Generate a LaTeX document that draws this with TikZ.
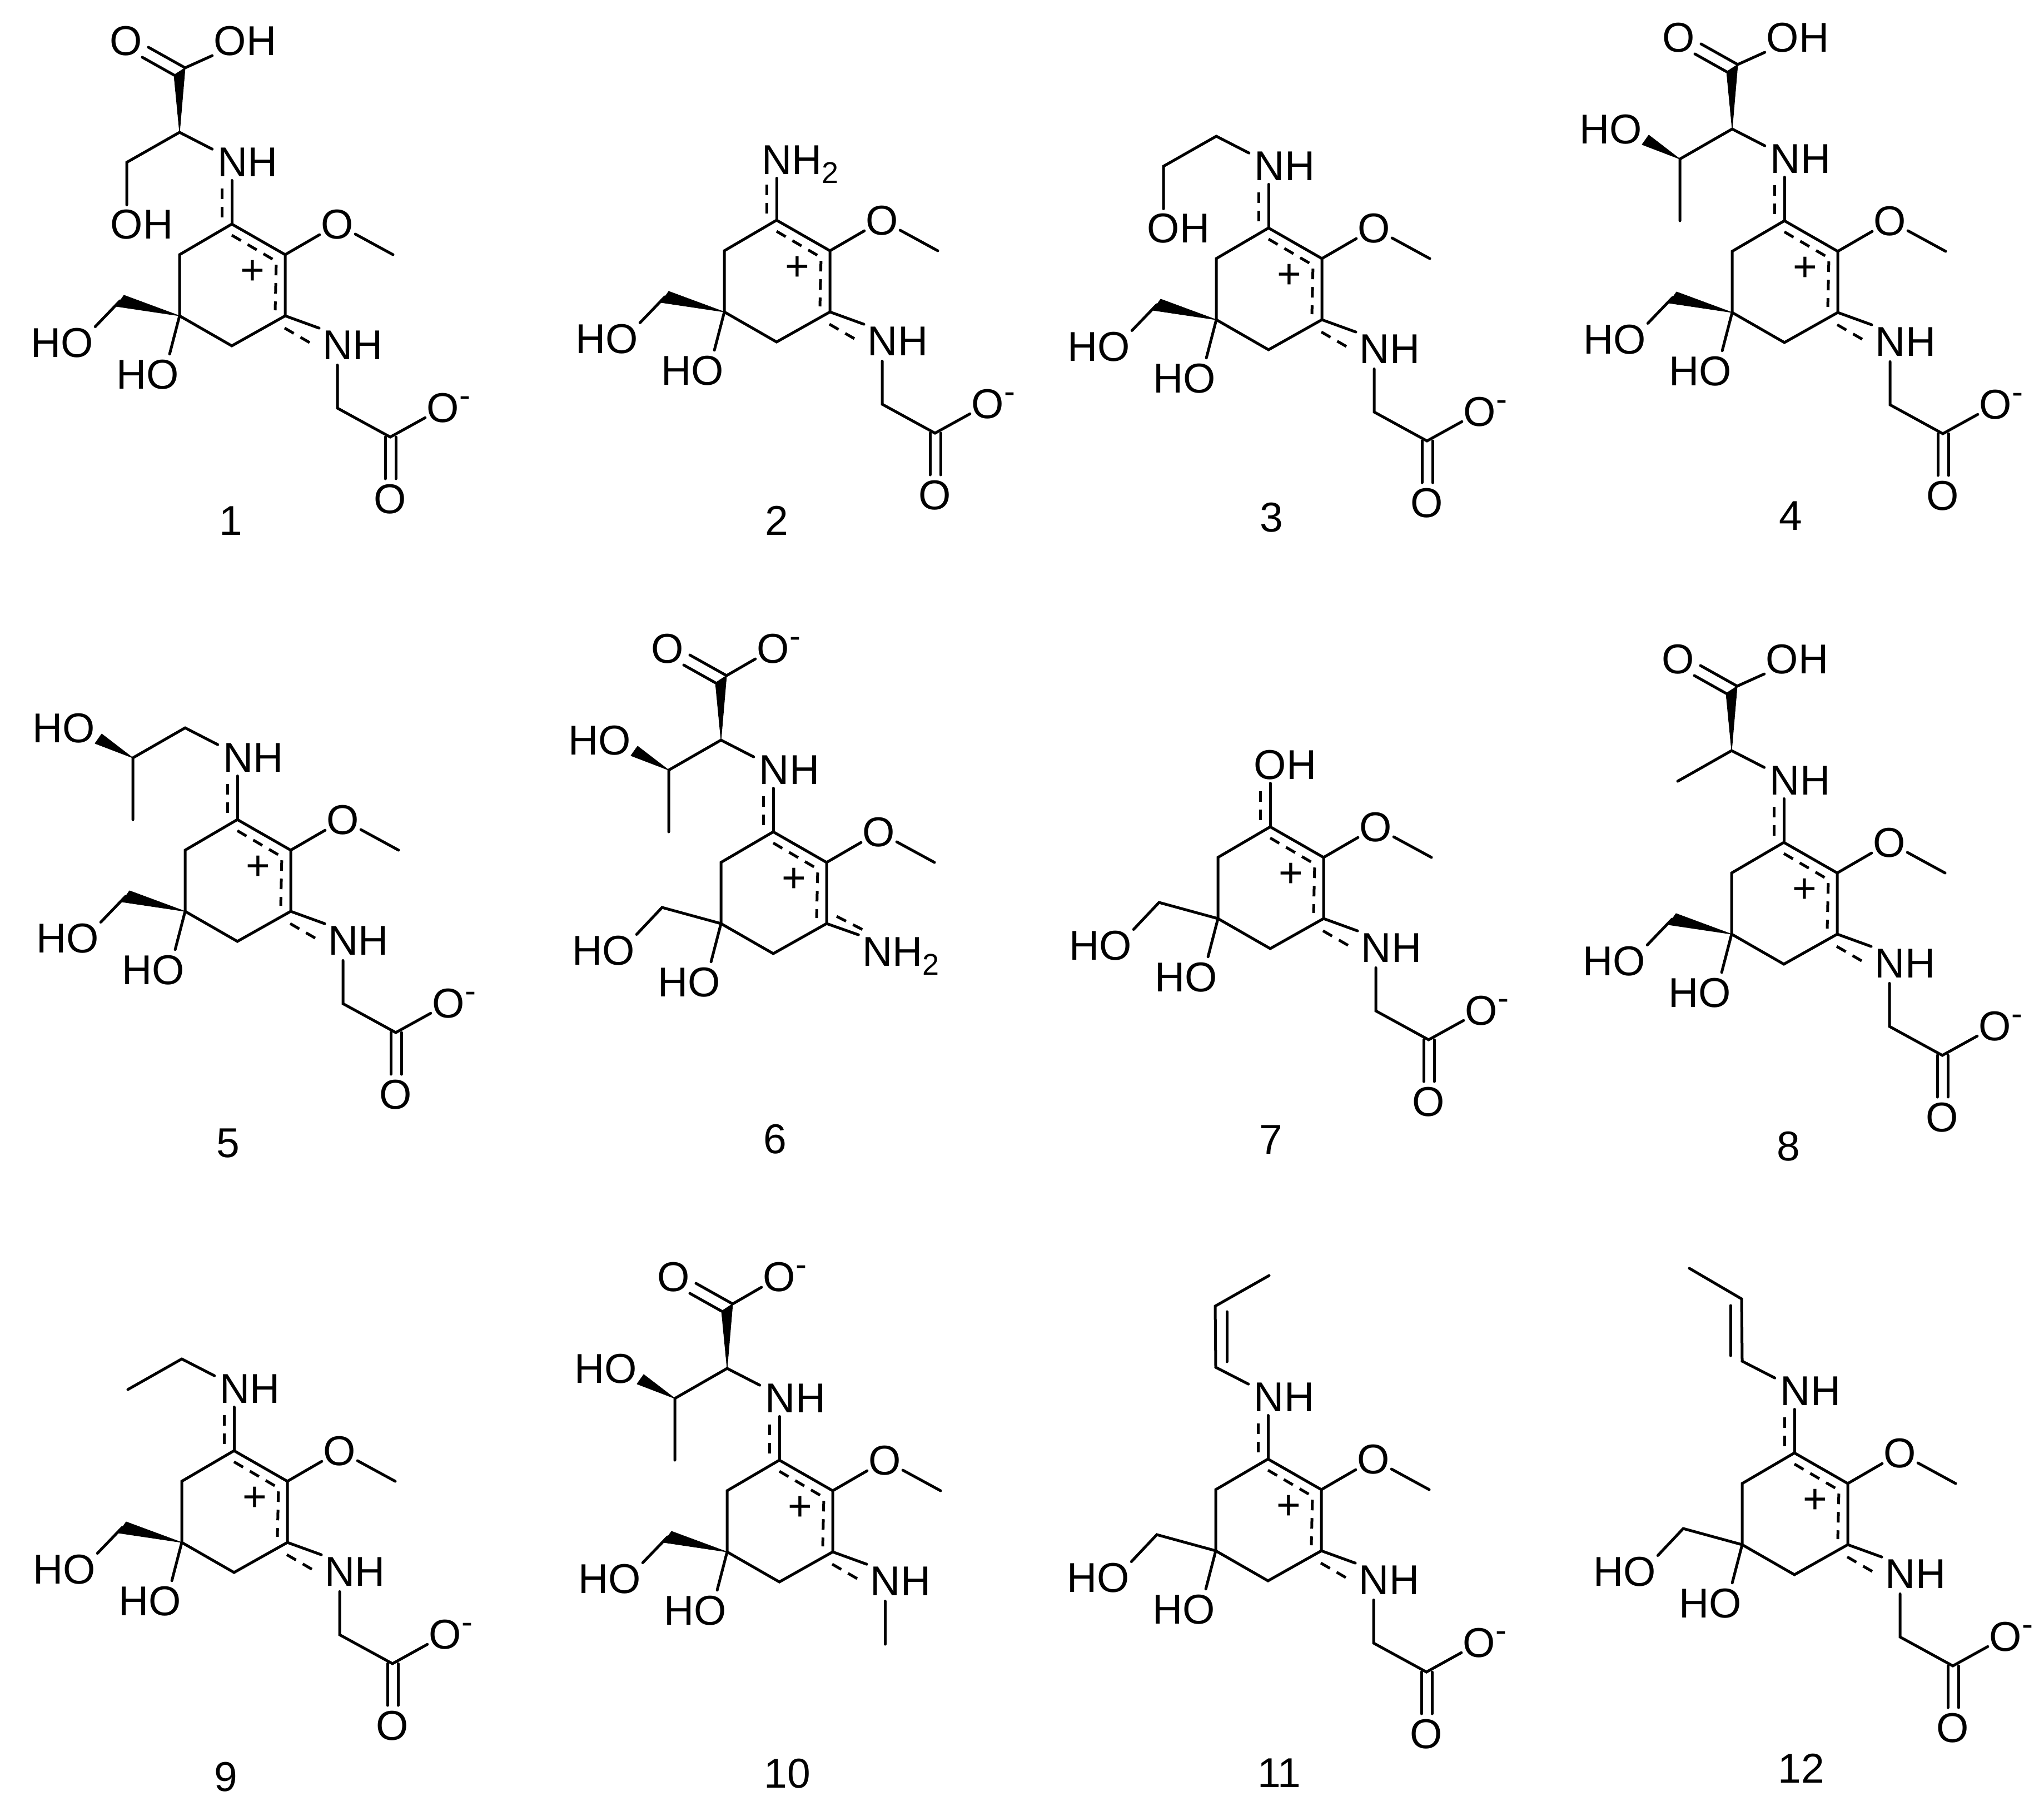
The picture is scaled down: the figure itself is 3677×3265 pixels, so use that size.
\documentclass[tikz,border=0pt]{standalone}
\usepackage{fontspec}
\setmainfont{Liberation Sans}
\tikzset{
  atom/.style={font=\fontsize{75}{80}\selectfont,text height=52pt,text depth=0pt,inner sep=0pt,outer sep=3pt,anchor=center,yshift=2.5pt},
  numlabel/.style={font=\fontsize{75}{80}\selectfont,text height=52pt,text depth=0pt,inner sep=0pt,anchor=center},
  bond/.style={draw=black,line width=5pt,line cap=round,line join=miter},
  dashbond/.style={draw=black,line width=5pt,line cap=butt,line join=miter,dash pattern=on 19pt off 14pt},
  wedgebond/.style={fill=black,draw=black,line width=1pt,line join=round}
}
\newcommand\ptc[3]{\coordinate (\pfx#1) at (#2,#3);}
\newcommand\lab[4]{\node[atom] (\pfx#1) at (#2,#3) {#4};}
\newcommand\Ominus{O\rlap{\raisebox{28pt}{\fontsize{60}{60}\selectfont -}}}
\newcommand\NHtwo{NH\raisebox{-15.6pt}{\fontsize{54}{54}\selectfont 2}}
\newcommand\mol[4]{\begin{scope}[shift={(#2pt,-#3pt)},x=1pt,y=-1pt]\def\pfx{#1}#4\end{scope}}
% ring, methoxy, tertiary OH, delocalised dashes, charge
\newcommand\ringcore{%
  \ptc{T}{0}{0}\ptc{UR}{96}{55}\ptc{LR}{96}{165}\ptc{Bt}{0}{219}\ptc{LL}{-94}{165}\ptc{UL}{-94}{55}%
  \draw[bond] (\pfx T)--(\pfx UR)--(\pfx LR)--(\pfx Bt)--(\pfx LL)--(\pfx UL)--cycle;
  \lab{OM}{190}{3}{O}\ptc{Me}{290}{55}%
  \draw[bond] (\pfx UR)--(\pfx OM);
  \draw[bond] (\pfx OM)--(\pfx Me);
  \ptc{DA}{0}{20}\ptc{DB}{80}{67}\ptc{DC}{78}{155}%
  \draw[dashbond] (\pfx DA)--(\pfx DB)--(\pfx DC);
  \lab{plus}{37}{85}{+}%
  \lab{OHr}{-151}{273}{HO}%
  \draw[bond,shorten >=8pt] (\pfx LL)--(\pfx OHr.38);
  \lab{OHc}{-305}{216}{HO}%
}
\newcommand\wedgeCH{%
  \ptc{Wa}{-194}{128}\ptc{Wb}{-208}{148}\ptc{CH}{-201}{138}%
  \draw[wedgebond] (\pfx LL)--(\pfx Wa)--(\pfx Wb)--cycle;
  \draw[bond] (\pfx CH)--(\pfx OHc.north east);
}
\newcommand\plainCH{%
  \ptc{CH}{-200}{136}%
  \draw[bond] (\pfx LL)--(\pfx CH)--(\pfx OHc.north east);
}
\newcommand\lowerbond{%
  \draw[bond,shorten >=4pt] (\pfx LR)--(\pfx NL.north west);
}
\newcommand\lowerNH{%
  \lab{NL}{218}{220}{NH}\lowerbond
  \ptc{Ea}{95}{187}\ptc{Eb}{145}{216}%
  \draw[dashbond] (\pfx Ea)--(\pfx Eb);
}
\newcommand\glycine{%
  \ptc{CG}{190}{331}\ptc{CO}{285}{383}\ptc{Ca}{276}{383}\ptc{Cb}{295}{383}\ptc{Ea1}{276}{458}\ptc{Eb1}{295}{458}%
  \lab{Om}{380}{333}{\Ominus}\lab{Od}{285}{497}{O}%
  \draw[bond,shorten <=7pt] (\pfx CG |- \pfx NL.south)--(\pfx CG)--(\pfx CO)--(\pfx Om);
  \draw[bond] (\pfx Ca)--(\pfx Ea1);
  \draw[bond] (\pfx Cb)--(\pfx Eb1);
}
\newcommand\topdash{%
  \ptc{Da}{-18}{-12}\ptc{Db}{-18}{-66}%
  \draw[bond,shorten >=4pt] (\pfx T)--(\pfx T |- \pfx NT.south);
  \draw[dashbond] (\pfx Da)--(\pfx Db);
}
\newcommand\topNH{\lab{NT}{29}{-109}{NH}\topdash}
\newcommand\chain{%
  \ptc{CA}{-94}{-165}%
  \draw[bond,shorten >=8pt] (\pfx CA)--(\pfx NT.161);
}
\newcommand\hydroxyMe{%
  \ptc{CB}{-188}{-111}\ptc{CM}{-188}{0}\ptc{Wc}{-256}{-137}\ptc{Wd}{-244}{-154}%
  \lab{OB}{-312}{-162}{HO}%
  \draw[bond] (\pfx CA)--(\pfx CB)--(\pfx CM);
  \draw[wedgebond] (\pfx CB)--(\pfx Wc)--(\pfx Wd)--cycle;
}
\newcommand\carboxyl[2]{%
  \ptc{Ap}{-84}{-281}\ptc{Bs}{-104}{-268}\ptc{Oa}{-150}{-318}\ptc{Ob}{-161}{-300}%
  \lab{Oeq}{-190}{-327}{O}\lab{OX}{#1}{-327}{#2}%
  \draw[wedgebond] (\pfx CA)--(\pfx Ap)--(\pfx Bs)--cycle;
  \draw[bond] (\pfx Ap)--(\pfx Oa);
  \draw[bond] (\pfx Bs)--(\pfx Ob);
  \draw[bond] (\pfx Ap)--(\pfx OX);
}
\newcommand\hydroxyEt{%
  \ptc{CB}{-189}{-111}\lab{OE}{-162}{3}{OH}%
  \draw[bond,shorten >=6pt] (\pfx CA)--(\pfx CB)--(\pfx CB |- \pfx OE.north);
}
\newcommand\tailMe{%
  \ptc{CB}{-191}{-110}%
  \draw[bond] (\pfx CA)--(\pfx CB);
}
\begin{document}
\begin{tikzpicture}[x=1pt,y=1pt]
\useasboundingbox (0,0) rectangle (3677,-3265);
\mol{a}{417}{403}{\ringcore\wedgeCH\lowerNH\glycine\topNH\chain\hydroxyEt\carboxyl{24}{OH}}
\mol{b}{1397}{396}{\ringcore\wedgeCH\lowerNH\glycine
  \node[atom,anchor=west] (\pfx NT) at (-29.5,-106) {\NHtwo};\topdash}
\mol{c}{2282}{410}{\ringcore\wedgeCH\lowerNH\glycine\topNH\chain\hydroxyEt}
\mol{d}{3210}{397}{\ringcore\wedgeCH\lowerNH\glycine\topNH\chain\hydroxyMe\carboxyl{24}{OH}}
\mol{e}{427}{1474}{\ringcore\wedgeCH\lowerNH\glycine\topNH\chain\hydroxyMe}
\mol{f}{1391}{1496}{\ringcore\plainCH
  \node[atom,anchor=west] (\pfx NL) at (157,218) {\NHtwo};\lowerbond
  \ptc{Ea}{114}{152}\ptc{Eb}{165}{178}\draw[dashbond] (\pfx Ea)--(\pfx Eb);
  \topNH\chain\hydroxyMe\carboxyl{0}{\Ominus}}
\mol{g}{2285}{1487}{\ringcore\plainCH\lowerNH\glycine\lab{NT}{27}{-109}{OH}\topdash}
\mol{h}{3209}{1515}{\ringcore\wedgeCH\lowerNH\glycine\topNH\chain\tailMe\carboxyl{24}{OH}}
\mol{i}{421}{2609}{\ringcore\wedgeCH\lowerNH\glycine\topNH\chain\tailMe}
\mol{j}{1402}{2626}{\ringcore\wedgeCH\lowerNH
  \ptc{CG}{190}{331}\draw[bond,shorten <=7pt] (\pfx CG |- \pfx NL.south)--(\pfx CG);
  \topNH\chain\hydroxyMe\carboxyl{0}{\Ominus}}
\mol{k}{2281}{2624}{\ringcore\plainCH\lowerNH\glycine\topNH\chain
  \ptc{CB}{-95}{-275}\ptc{CE}{2}{-330}\ptc{Ia}{-74}{-265}\ptc{Ib}{-74}{-175}%
  \draw[bond] (\pfx CA)--(\pfx CB)--(\pfx CE);
  \draw[bond] (\pfx Ia)--(\pfx Ib);}
\mol{l}{3228}{2613}{\ringcore\plainCH\lowerNH\glycine\topNH\chain
  \ptc{CB}{-95}{-277}\ptc{CE}{-189}{-332}\ptc{Ia}{-115}{-265}\ptc{Ib}{-115}{-175}%
  \draw[bond] (\pfx CA)--(\pfx CB)--(\pfx CE);
  \draw[bond] (\pfx Ia)--(\pfx Ib);}
\node[numlabel] (n1) at (415,-936) {1};
\node[numlabel] (n2) at (1397,-936) {2};
\node[numlabel] (n3) at (2287,-930) {3};
\node[numlabel] (n4) at (3221,-927) {4};
\node[numlabel] (n5) at (410,-2055) {5};
\node[numlabel] (n6) at (1394,-2048) {6};
\node[numlabel] (n7) at (2286,-2049) {7};
\node[numlabel] (n8) at (3217,-2061) {8};
\node[numlabel] (n9) at (406,-3195) {9};
\node[numlabel] (n10) at (1416,-3189) {10};
\node[numlabel] (n11) at (2301,-3188) {11};
\node[numlabel] (n12) at (3240,-3180) {12};
\end{tikzpicture}
\end{document}
